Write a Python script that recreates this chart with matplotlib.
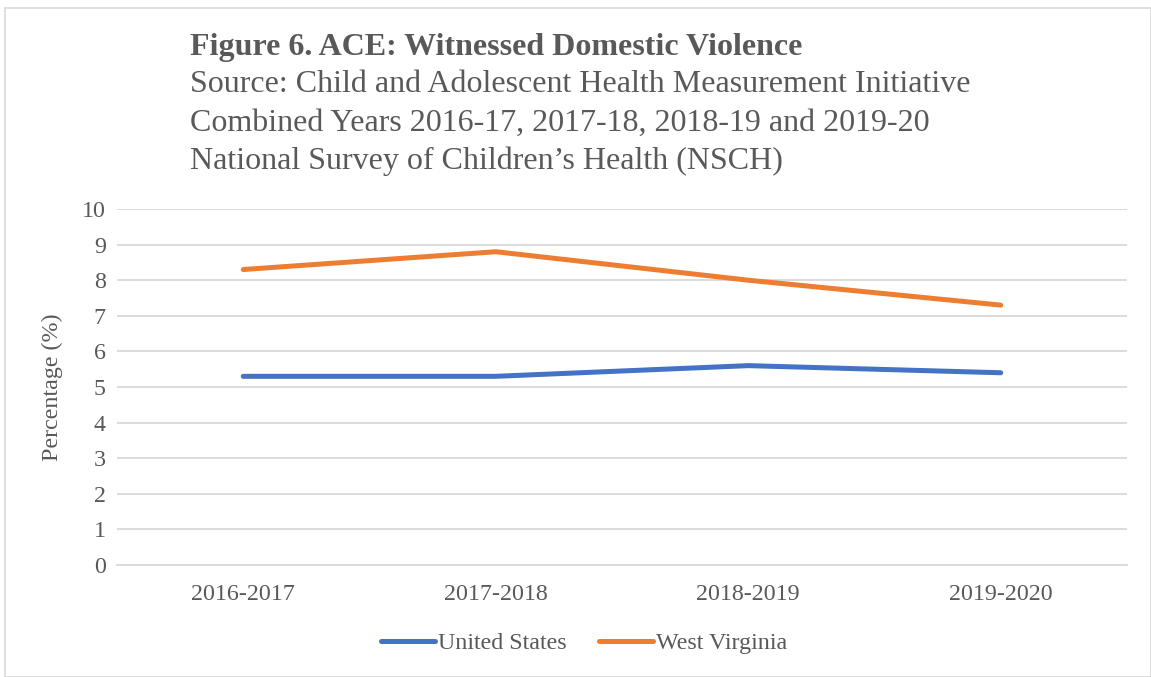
import numpy as np
import matplotlib.pyplot as plt
from matplotlib.patches import Rectangle

# data
periods = ["2016-2017", "2017-2018", "2018-2019", "2019-2020"]
us_vals = [5.3, 5.3, 5.6, 5.4]
wv_vals = [8.3, 8.8, 8.0, 7.3]

W, H = 1151, 677
fig = plt.figure(figsize=(W / 100, H / 100), dpi=100)
plt.rcParams['font.family'] = ['Liberation Serif', 'DejaVu Serif']

# outer border like the excel chart area
fig.patches.append(Rectangle((5 / W, 0), 1 - 5 / W, 1 - 8 / H, transform=fig.transFigure,
                             fill=False, edgecolor='#d9d9d9', lw=1.2))

ax = fig.add_axes([117 / W, 1 - 565 / H, (1127 - 117) / W, (565 - 209) / H])
x = np.arange(len(periods))
ax.plot(x, us_vals, color='#4472C4', lw=3.6, solid_capstyle='round', label='United States', zorder=3)
ax.plot(x, wv_vals, color='#ED7D31', lw=3.6, solid_capstyle='round', label='West Virginia', zorder=3)

ax.set_xlim(-0.5, len(periods) - 0.5)
ax.set_ylim(0, 10)
ax.set_yticks(range(0, 11))
ax.set_xticks(x)
ax.set_xticklabels(periods)
ax.tick_params(length=0, labelsize=17.3, colors='#595959', pad=8)
ax.tick_params(axis='x', pad=14)
ax.grid(axis='y', color='#d9d9d9', lw=1.3)
ax.set_axisbelow(True)
for s in ['top', 'right', 'left']:
    ax.spines[s].set_visible(False)
ax.spines['bottom'].set_color('#d9d9d9')
ax.spines['bottom'].set_linewidth(1.3)

fig.text(52 / W, 1 - 387 / H, 'Percentage (%)', rotation=90, ha='center', va='center',
         fontsize=17.3, color='#595959')

fig.text(190 / W, 1 - 47 / H, 'Figure 6. ACE: Witnessed Domestic Violence', fontsize=23,
         fontweight='bold', color='#595959', ha='left', va='center')
sub = ["Source: Child and Adolescent Health Measurement Initiative",
       "Combined Years 2016-17, 2017-18, 2018-19 and 2019-20",
       "National Survey of Children\u2019s Health (NSCH)"]
for i, line in enumerate(sub):
    fig.text(190 / W, 1 - (85 + 38 * i) / H, line, fontsize=23, color='#595959',
             ha='left', va='center')

leg = fig.legend(loc='center', bbox_to_anchor=(584 / W, 1 - 643 / H), ncol=2, frameon=False,
                 fontsize=17.3, handlelength=2.25, handletextpad=0.12, columnspacing=1.35)
for t in leg.get_texts():
    t.set_color('#595959')

fig.savefig('out.png', dpi=100)
